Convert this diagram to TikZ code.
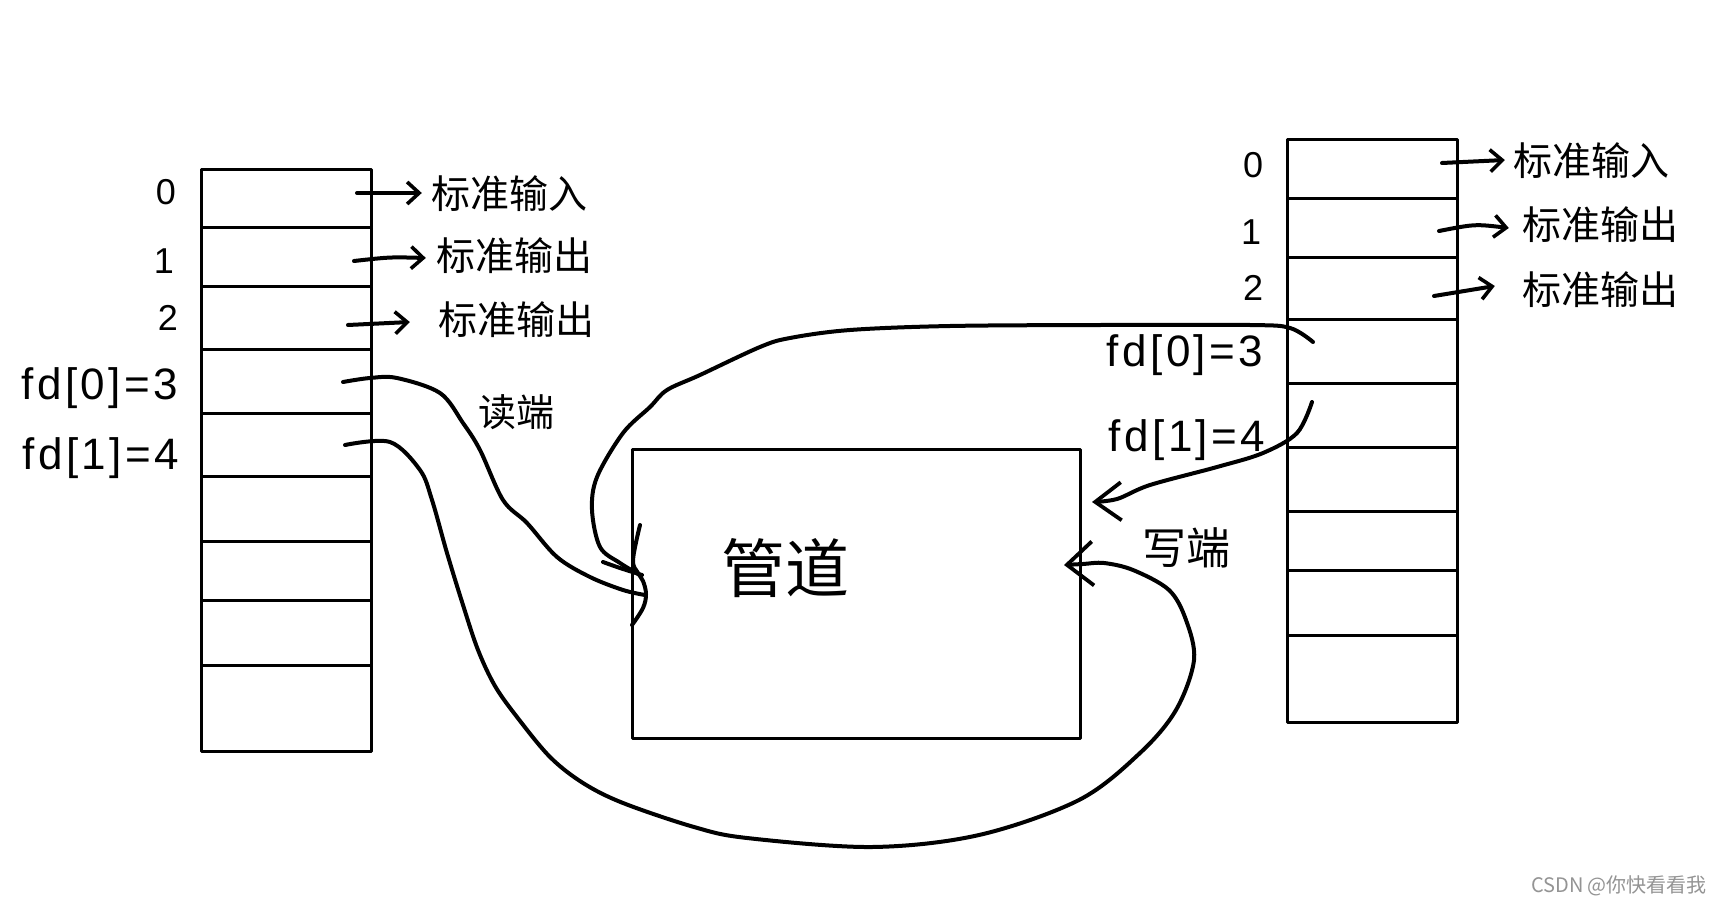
\documentclass[tikz,border=0pt]{standalone}
\usepackage{fontspec}
\setmainfont{Liberation Sans}
\newfontfamily\cjk{Noto Sans CJK SC}
\usetikzlibrary{arrows.meta}
\begin{document}
\begin{tikzpicture}[x=1pt,y=-1pt,line cap=round,line join=round,
  cell/.style={draw,line width=2.7pt,inner sep=0pt,minimum width=170pt,anchor=north west},
  hand/.style={line width=4pt},
  harr/.style={hand,-{Straight Barb[length=12pt,width=22pt,line width=3.6pt]}},
  lbl/.style={inner sep=0pt,font=\cjk\fontsize{39}{39}\selectfont},
  num/.style={inner sep=0pt,font=\fontsize{36}{36}\selectfont},
  fdl/.style={inner sep=0pt,font=\fontsize{44}{44}\selectfont\addfontfeatures{LetterSpace=8}},
  curve/.style={hand},
  bigarr/.style={hand,-{Straight Barb[length=26pt,width=44pt,line width=3.8pt]}},
  midarr/.style={hand,-{Straight Barb[length=26pt,width=38pt,line width=3.8pt]}}
]
\fill[white] (0,0) rectangle (1720,904);
\useasboundingbox (0,0) rectangle (1720,904);

% left table
\foreach \t/\h/\n in {168/58/0,226/59/1,285/63/2,348/64/3,412/63/4,475/65/5,540/59/6,599/65/7,664/86/8}
  \node[cell,minimum height=\h pt] (L\n) at (200,\t) {};
% right table
\foreach \t/\h/\n in {138/59/0,197/59/1,256/62/2,318/64/3,382/64/4,446/64/5,510/59/6,569/65/7,634/87/8}
  \node[cell,minimum height=\h pt] (R\n) at (1286,\t) {};

% pipe
\node[draw,line width=2.7pt,inner sep=0pt,minimum width=448pt,minimum height=289pt,anchor=north west] (pipe) at (631,448) {};
\node[inner sep=0pt,font=\cjk\fontsize{64}{64}\selectfont] (pipelbl) at (785,568) {管道};

% left labels
\node[num] (ln0) at (166,192) {0};
\node[num] (ln1) at (164,261) {1};
\node[num] (ln2) at (168,318) {2};
\node[fdl] (lfd0) at (100,388) {fd[0]=3};
\node[fdl] (lfd1) at (101,458) {fd[1]=4};
\node[lbl] (lt0) at (509,194) {标准输入};
\node[lbl] (lt1) at (514,256) {标准输出};
\node[lbl] (lt2) at (516,320) {标准输出};

% right labels
\node[num] (rn0) at (1253,165) {0};
\node[num] (rn1) at (1251,232) {1};
\node[num] (rn2) at (1253,288) {2};
\node[fdl] (rfd0) at (1185,355) {fd[0]=3};
\node[fdl] (rfd1) at (1187,440) {fd[1]=4};
\node[lbl] (rt0) at (1591,161) {标准输入};
\node[lbl] (rt1) at (1600,225) {标准输出};
\node[lbl] (rt2) at (1600,290) {标准输出};

% end labels
\node[inner sep=0pt,font=\cjk\fontsize{38}{38}\selectfont] (rd) at (516,412) {读端};
\node[inner sep=0pt,font=\cjk\fontsize{44}{44}\selectfont] (wr) at (1186,548) {写端};

% short arrows to std streams
\coordinate (la0) at (357,193); \coordinate (la1) at (354,261); \coordinate (la2) at (348,325);
\coordinate (ra0) at (1442,163); \coordinate (ra1) at (1439,231); \coordinate (ra2) at (1434,296);
\draw[harr] (la0) -- ([xshift=-9pt,yshift=1pt]lt0.west);
\draw[harr] (la1) .. controls (390,257) .. ([xshift=-10pt,yshift=-2pt]lt1.west);
\draw[harr] (la2) -- ([xshift=-28pt,yshift=-2pt]lt2.west);
\draw[harr] (ra0) -- ([xshift=-8pt,yshift=1pt]rt0.west);
\draw[harr] (ra1) .. controls (1475,224) .. ([xshift=-13pt,yshift=-3pt]rt1.west);
\draw[harr] (ra2) -- ([xshift=-27pt,yshift=4pt]rt2.west);

% connectors
\coordinate (c1s) at (343,382);
\coordinate (c1e) at (645,595);
\draw[curve] plot[smooth,tension=0.55] coordinates {(c1s) (370,378) (397,378) (440,393) (463,423) (480,450) (503,500) (527,523) (557,557) (590,577) (623,590) (c1e)};

\coordinate (c2s) at (345,445);
\coordinate (c2e) at (1064,565);
\draw[bigarr] plot[smooth,tension=0.55] coordinates {(c2s) (390,442) (420,470) (432,500) (447,553) (463,605) (478,650) (495,686) (517,717) (550,757) (583,783) (623,803) (694,827) (747,838) (872,847) (979,835) (1079,800) (1140,753) (1176,710) (1194,660) (1186,620) (1169,590) (1133,570) (1104,563) (1083,564) (c2e)};

\coordinate (c3s) at (1313,342);
\coordinate (c3e) at (640,575);
\draw[curve] plot[smooth,tension=0.55] coordinates {(c3s) (1290,328) (1250,325) (1100,325) (950,326) (850,330) (790,338) (760,347) (700,375) (667,390) (650,407) (623,433) (597,477) (592,510) (600,547) (620,563) (c3e)};

\coordinate (c4s) at (1312,402);
\coordinate (c4e) at (1092,502);
\draw[midarr] plot[smooth,tension=0.55] coordinates {(c4s) (1297,433) (1263,453) (1217,467) (1150,485) (1117,499) (c4e)};

% hand-drawn head strokes at the read end
\draw[curve] plot[smooth,tension=0.6] coordinates {(603,562) (620,568) (642,575)};
\draw[curve] plot[smooth,tension=0.6] coordinates {(640,525) (633,560) (638,573) (643,581) (646,594) (643,608) (632,625)};

% watermark
\node[inner sep=0pt,font=\cjk\fontsize{20}{20}\selectfont,text=black!42] (wm) at (1619,886) {CSDN @你快看看我};
\end{tikzpicture}
\end{document}
